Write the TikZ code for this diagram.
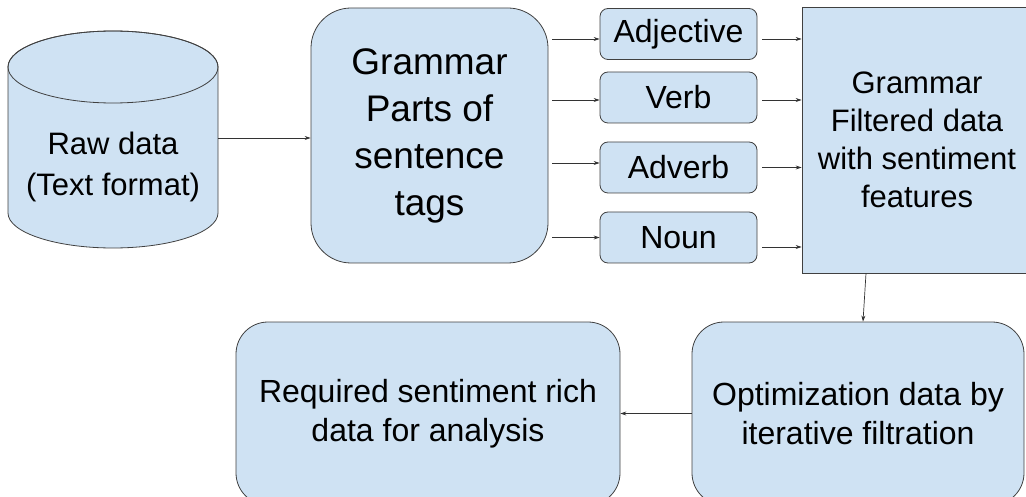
\documentclass[tikz,border=0pt]{standalone}
\usepackage{fontspec}
\setmainfont{Liberation Sans}
\usetikzlibrary{arrows.meta}
\definecolor{boxfill}{HTML}{CFE2F3}
\definecolor{edge}{HTML}{404040}
\tikzset{
  flowbox/.style={draw=edge, line width=0.8pt, fill=boxfill, align=center, inner sep=0pt},
  tagbox/.style={flowbox, rounded corners=8pt, minimum width=157pt, minimum height=51pt,
                 font=\fontsize{32}{36}\selectfont},
  link/.style={draw=edge!80!black, line width=0.7pt, -{Stealth[length=6pt,width=4pt]}}
}
\begin{document}
\begin{tikzpicture}[x=1pt, y=-1pt]
  \useasboundingbox (0,0) rectangle (1026,497);
  \clip (0,0) rectangle (1026,497);

  % storage cylinder for the raw text
  \draw[draw=edge, line width=0.8pt, fill=boxfill]
    (8,67) -- (8,213) arc[start angle=180, end angle=360, x radius=105pt, y radius=35pt]
    -- (218,67) arc[start angle=0, end angle=180, x radius=105pt, y radius=36pt] -- cycle;
  \draw[draw=edge, line width=0.8pt] (113,67) ellipse[x radius=105pt, y radius=36pt];
  \node[inner sep=0pt, minimum width=210pt, minimum height=146pt] (raw) at (113,138) {};
  \node[align=center, font=\fontsize{31}{41}\selectfont] (rawtext) at (113,167)
    {Raw data\\(Text format)};

  % tagging stage
  \node[flowbox, rounded corners=40pt, minimum width=237pt, minimum height=255pt,
        font=\fontsize{37}{47}\selectfont] (gram) at (429.5,135.5)
    {Grammar\\Parts of\\sentence\\tags};

  % parts of speech
  \node[tagbox] (adj)  at (678.5,34)    {Adjective};
  \node[tagbox] (verb) at (678.5,97.5)  {Verb};
  \node[tagbox] (adv)  at (678.5,167.5) {Adverb};
  \node[tagbox] (noun) at (678.5,237.5) {Noun};

  % filtered data
  \node[flowbox, minimum width=230pt, minimum height=266pt,
        font=\fontsize{31}{38}\selectfont] (big) at (917,140)
    {Grammar\\Filtered data\\with sentiment\\features};

  % lower row
  \node[flowbox, rounded corners=32pt, minimum width=332pt, minimum height=183pt,
        font=\fontsize{32}{39}\selectfont] (opt) at (858,413.5)
    {Optimization data by\\iterative filtration};
  \node[flowbox, rounded corners=32pt, minimum width=384pt, minimum height=183pt,
        font=\fontsize{32}{39}\selectfont] (req) at (428,413.5)
    {Required sentiment rich\\data for analysis};

  % entry and exit points on the tag boxes
  \coordinate (adjin)   at ([yshift=-5pt]adj.west);
  \coordinate (verbin)  at ([yshift=-2.5pt]verb.west);
  \coordinate (advin)   at ([yshift=4.5pt]adv.west);
  \coordinate (nounin)  at (noun.west);
  \coordinate (adjout)  at ([yshift=-5pt]adj.east);
  \coordinate (verbout) at ([yshift=-2.5pt]verb.east);
  \coordinate (advout)  at (adv.east);
  \coordinate (nounout) at ([yshift=-9.5pt]noun.east);
  \coordinate (bigout)  at ([xshift=-51pt]big.south);
  \coordinate (optin)   at ([xshift=5pt]opt.north);

  % connectors
  \draw[link] (raw.east) -- (raw.east -| gram.west);
  \foreach \p in {adjin, verbin, advin, nounin}
    \draw[link, shorten <=4pt] (\p -| gram.east) -- (\p);
  \foreach \p in {adjout, verbout, advout, nounout}
    \draw[link, shorten <=5pt] (\p) -- (\p -| big.west);
  \draw[link] (bigout) -- (optin);
  \draw[link] (opt.west) -- (req.east);
\end{tikzpicture}
\end{document}
